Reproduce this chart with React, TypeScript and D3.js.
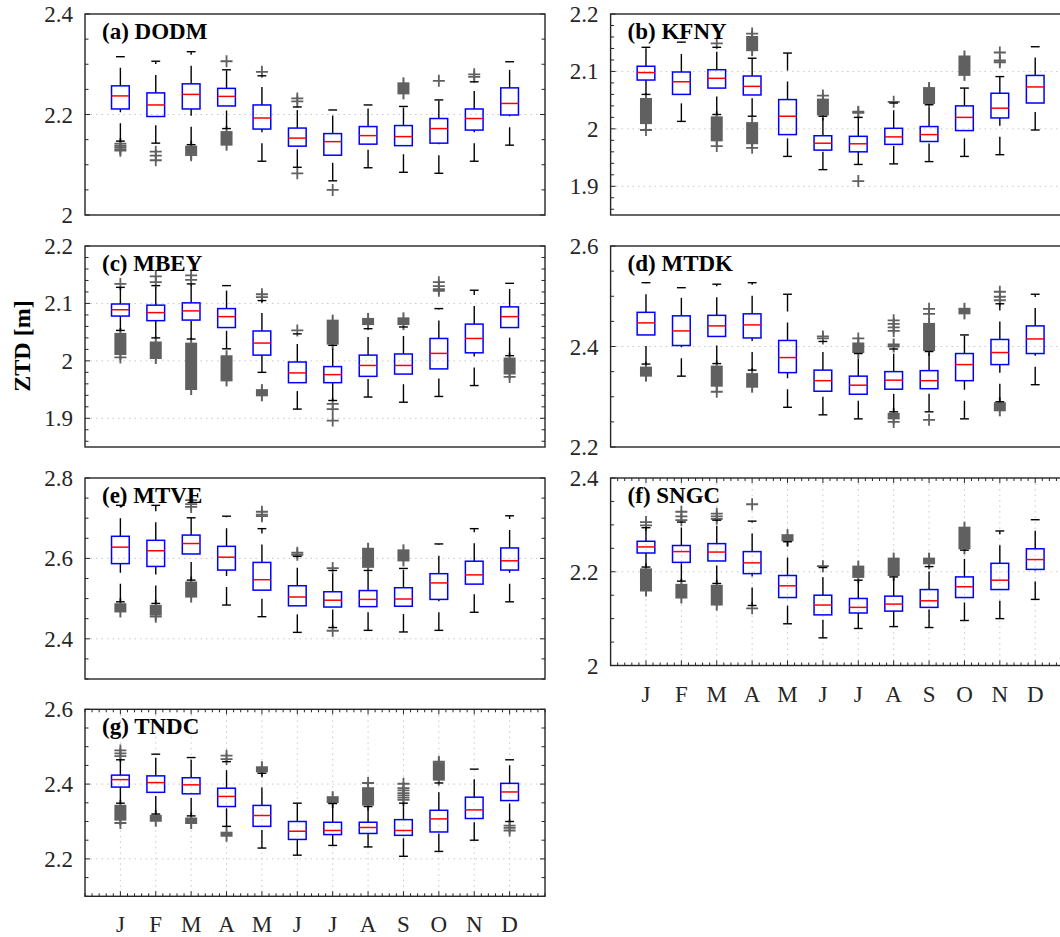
import React from 'react';
import * as d3 from 'd3';

const months = ['J', 'F', 'M', 'A', 'M', 'J', 'J', 'A', 'S', 'O', 'N', 'D'];

// each box: [whiskerLo, q1, median, q3, whiskerHi]
const dodmBoxes = [
  [2.147, 2.211, 2.237, 2.257, 2.315], [2.143, 2.196, 2.219, 2.243, 2.306], [2.14, 2.211, 2.240, 2.261, 2.325],
  [2.172, 2.217, 2.236, 2.252, 2.289], [2.107, 2.171, 2.193, 2.219, 2.277], [2.095, 2.137, 2.153, 2.173, 2.215],
  [2.068, 2.119, 2.146, 2.162, 2.209], [2.094, 2.141, 2.158, 2.176, 2.219], [2.085, 2.138, 2.156, 2.178, 2.216],
  [2.083, 2.143, 2.172, 2.192, 2.229], [2.107, 2.169, 2.192, 2.211, 2.265], [2.139, 2.199, 2.222, 2.253, 2.305],
];
const dodmOutliers = [[2.142, 2.138, 2.135, 2.131, 2.128], [2.126, 2.118, 2.109], [2.119], [2.306], [2.285], [2.232, 2.226, 2.083], [2.05], [], [], [2.267], [2.28, 2.275], []];
const dodmClusters = [[], [], [[2.122, 2.136]], [[2.14, 2.165]], [], [], [], [], [[2.242, 2.262]], [], [], []];

const kfnyBoxes = [
  [2.06, 2.085, 2.098, 2.109, 2.142], [2.013, 2.06, 2.082, 2.099, 2.151], [2.025, 2.071, 2.088, 2.103, 2.142],
  [2.022, 2.059, 2.074, 2.092, 2.123], [1.952, 1.99, 2.022, 2.051, 2.132], [1.929, 1.963, 1.975, 1.988, 2.022],
  [1.938, 1.96, 1.974, 1.987, 2.02], [1.939, 1.973, 1.986, 2.001, 2.045], [1.943, 1.978, 1.99, 2.004, 2.042],
  [1.952, 1.997, 2.02, 2.04, 2.071], [1.955, 2.019, 2.036, 2.062, 2.091], [1.998, 2.045, 2.073, 2.093, 2.143],
];
const kfnyOutliers = [[1.998], [], [2.149, 1.97], [2.166, 1.967], [], [2.058], [2.03, 2.028, 1.909], [2.047], [], [], [2.133, 2.119, 2.116], []];
const kfnyClusters = [[[2.01, 2.052]], [], [[1.98, 2.02]], [[2.137, 2.16], [1.975, 2.01]], [], [[2.025, 2.051]], [], [], [[2.045, 2.071]], [[2.094, 2.126]], [], []];

const mbeyBoxes = [
  [2.053, 2.078, 2.089, 2.099, 2.128], [2.04, 2.07, 2.084, 2.097, 2.131], [2.038, 2.071, 2.087, 2.101, 2.134],
  [2.021, 2.058, 2.077, 2.091, 2.131], [1.98, 2.01, 2.031, 2.052, 2.105], [1.916, 1.962, 1.979, 1.998, 2.047],
  [1.931, 1.962, 1.976, 1.99, 2.027], [1.937, 1.973, 1.992, 2.01, 2.056], [1.928, 1.977, 1.992, 2.012, 2.059],
  [1.938, 1.986, 2.013, 2.039, 2.091], [1.957, 2.014, 2.039, 2.064, 2.123], [2.009, 2.058, 2.077, 2.094, 2.135],
];
const mbeyOutliers = [[2.134, 2.006], [2.147, 2.137], [2.149, 2.141], [], [2.116, 2.111], [2.053], [1.925, 1.916, 1.896], [], [], [2.137, 2.13, 2.125, 2.122], [], [1.972]];
const mbeyClusters = [[[2.012, 2.047]], [[2.005, 2.032]], [[1.951, 2.03]], [[1.966, 2.008]], [[1.94, 1.949]], [], [[2.03, 2.07]], [[2.064, 2.073]], [[2.064, 2.074]], [], [], [[1.978, 2.004]]];

const mtdkBoxes = [
  [2.365, 2.423, 2.447, 2.468, 2.527], [2.341, 2.402, 2.431, 2.461, 2.517], [2.366, 2.42, 2.441, 2.462, 2.524],
  [2.353, 2.417, 2.443, 2.465, 2.527], [2.279, 2.348, 2.378, 2.412, 2.504], [2.264, 2.311, 2.332, 2.353, 2.41],
  [2.256, 2.305, 2.323, 2.341, 2.386], [2.27, 2.315, 2.333, 2.35, 2.395], [2.27, 2.316, 2.332, 2.352, 2.39],
  [2.256, 2.332, 2.364, 2.386, 2.423], [2.29, 2.364, 2.388, 2.414, 2.485], [2.324, 2.386, 2.415, 2.441, 2.504],
];
const mtdkOutliers = [[], [], [2.31], [], [], [2.416, 2.42], [2.416], [2.452, 2.445, 2.438, 2.431, 2.25], [2.254, 2.475, 2.465], [], [2.509, 2.499, 2.492], []];
const mtdkClusters = [[[2.342, 2.358]], [], [[2.322, 2.36]], [[2.32, 2.345]], [], [], [[2.389, 2.406]], [[2.4, 2.404], [2.257, 2.266]], [[2.393, 2.445]], [[2.466, 2.475]], [[2.273, 2.287]], []];

const mtveBoxes = [
  [2.492, 2.587, 2.628, 2.655, 2.732], [2.488, 2.58, 2.619, 2.645, 2.732], [2.546, 2.611, 2.637, 2.658, 2.701],
  [2.484, 2.571, 2.603, 2.63, 2.705], [2.455, 2.521, 2.547, 2.59, 2.674], [2.416, 2.482, 2.504, 2.532, 2.605],
  [2.428, 2.479, 2.496, 2.517, 2.57], [2.421, 2.48, 2.498, 2.52, 2.57], [2.417, 2.481, 2.499, 2.527, 2.575],
  [2.421, 2.498, 2.539, 2.562, 2.636], [2.466, 2.536, 2.559, 2.593, 2.674], [2.492, 2.571, 2.594, 2.626, 2.706],
];
const mtveOutliers = [[], [2.455], [2.745, 2.735, 2.728], [], [2.716, 2.709, 2.705], [2.614, 2.609], [2.576, 2.42], [], [], [], [], []];
const mtveClusters = [[[2.468, 2.486]], [[2.46, 2.482]], [[2.505, 2.54]], [], [], [], [], [[2.579, 2.624]], [[2.595, 2.62]], [], [], []];

const sngcBoxes = [
  [2.21, 2.24, 2.253, 2.265, 2.294], [2.18, 2.22, 2.243, 2.256, 2.306], [2.175, 2.223, 2.242, 2.26, 2.31],
  [2.128, 2.196, 2.219, 2.243, 2.308], [2.089, 2.145, 2.17, 2.192, 2.264], [2.059, 2.108, 2.129, 2.15, 2.209],
  [2.079, 2.112, 2.124, 2.143, 2.182], [2.083, 2.116, 2.131, 2.148, 2.189], [2.081, 2.124, 2.138, 2.162, 2.211],
  [2.096, 2.145, 2.168, 2.189, 2.246], [2.1, 2.162, 2.182, 2.218, 2.287], [2.141, 2.205, 2.226, 2.249, 2.311],
];
const sngcOutliers = [[2.306, 2.299], [2.328, 2.318, 2.31], [2.324, 2.318, 2.313], [2.344, 2.122], [], [2.212], [], [], [], [], [], []];
const sngcClusters = [[[2.16, 2.205]], [[2.145, 2.172]], [[2.13, 2.17]], [], [[2.267, 2.278]], [], [[2.189, 2.211]], [[2.193, 2.228]], [[2.218, 2.228]], [[2.25, 2.294]], [], []];

const tndcBoxes = [
  [2.349, 2.392, 2.412, 2.424, 2.465], [2.32, 2.378, 2.404, 2.422, 2.48], [2.315, 2.374, 2.398, 2.417, 2.471],
  [2.287, 2.34, 2.367, 2.389, 2.46], [2.229, 2.287, 2.316, 2.343, 2.429], [2.21, 2.252, 2.274, 2.3, 2.349],
  [2.236, 2.265, 2.276, 2.298, 2.348], [2.232, 2.268, 2.284, 2.298, 2.34], [2.207, 2.263, 2.276, 2.305, 2.349],
  [2.22, 2.272, 2.307, 2.33, 2.403], [2.25, 2.308, 2.331, 2.365, 2.44], [2.3, 2.356, 2.379, 2.402, 2.465],
];
const tndcOutliers = [[2.49, 2.482, 2.475, 2.296], [], [], [2.476, 2.467], [], [], [], [2.403], [2.401, 2.389, 2.383, 2.376, 2.37, 2.364, 2.358], [2.46], [], [2.289, 2.283, 2.276]];
const tndcClusters = [[[2.305, 2.342]], [[2.302, 2.315]], [[2.296, 2.308]], [[2.262, 2.27]], [[2.434, 2.445]], [], [[2.352, 2.365]], [[2.345, 2.389]], [], [[2.412, 2.456]], [], []];

const titles = ['(a) DODM', '(b) KFNY', '(c) MBEY', '(d) MTDK', '(e) MTVE', '(f) SNGC', '(g) TNDC'];
const yDomains = [[2, 2.4], [1.85, 2.2], [1.85, 2.2], [2.2, 2.6], [2.3, 2.8], [2, 2.4], [2.1, 2.6]];
const yMajor = [[2, 2.2, 2.4], [1.9, 2, 2.1, 2.2], [1.9, 2, 2.1, 2.2], [2.2, 2.4, 2.6], [2.4, 2.6, 2.8], [2, 2.2, 2.4], [2.2, 2.4, 2.6]];
const yMinorStep = [0.05, 0.02, 0.02, 0.05, 0.05, 0.05, 0.05];

const panelData = [
  { boxes: dodmBoxes, outliers: dodmOutliers, clusters: dodmClusters },
  { boxes: kfnyBoxes, outliers: kfnyOutliers, clusters: kfnyClusters },
  { boxes: mbeyBoxes, outliers: mbeyOutliers, clusters: mbeyClusters },
  { boxes: mtdkBoxes, outliers: mtdkOutliers, clusters: mtdkClusters },
  { boxes: mtveBoxes, outliers: mtveOutliers, clusters: mtveClusters },
  { boxes: sngcBoxes, outliers: sngcOutliers, clusters: sngcClusters },
  { boxes: tndcBoxes, outliers: tndcOutliers, clusters: tndcClusters },
];

// layout
const colX = [85, 610.6];
const panelW = 460;
const layout = [
  { col: 0, top: 14, h: 201, xt: false },
  { col: 1, top: 14, h: 201, xt: false },
  { col: 0, top: 246, h: 201, xt: false },
  { col: 1, top: 246, h: 201, xt: false },
  { col: 0, top: 478, h: 201, xt: false },
  { col: 1, top: 478, h: 187.5, xt: true },
  { col: 0, top: 709.3, h: 187, xt: true },
];

const FONT = 'Liberation Serif, Times New Roman, Tinos, serif';
const AX = '#262626';
const OUT = '#606060';

function fmt(v: number) {
  return String(+v.toFixed(2));
}

function Panel({ idx }: { idx: number }) {
  const L = layout[idx];
  const left = colX[L.col];
  const x = d3.scaleLinear().domain([0, 13]).range([left, left + panelW]);
  const y = d3.scaleLinear().domain(yDomains[idx]).range([L.top + L.h, L.top]);
  const [d0, d1] = yDomains[idx];
  const step = yMinorStep[idx];
  const minor = d3.range(Math.round(d0 / step), Math.round(d1 / step) + 1).map((k) => k * step);
  const majors = yMajor[idx];
  const { boxes, outliers, clusters } = panelData[idx];
  const bw = x(0.5) - x(0);
  const capW = bw / 2;
  const ms = 6;
  const bottom = L.top + L.h;
  const right = left + panelW;
  const xMinor = d3.range(0, 66).map((k) => k * 0.2);

  return (
    <g>
      {majors.filter((v) => v > d0 + 1e-9 && v < d1 - 1e-9).map((v, i) => (
        <line key={'gy' + i} x1={left} x2={right} y1={y(v)} y2={y(v)} stroke="#c8c8c8" strokeWidth={1} strokeDasharray="1.5 4" />
      ))}
      {L.xt && months.map((m, i) => (
        <line key={'gx' + i} x1={x(i + 1)} x2={x(i + 1)} y1={L.top} y2={bottom} stroke="#c8c8c8" strokeWidth={1} strokeDasharray="1.5 4" />
      ))}
      {minor.map((v, i) => {
        const isMaj = majors.some((m) => Math.abs(m - v) < 1e-6);
        const len = isMaj ? 5 : 3.5;
        return (
          <g key={'yt' + i}>
            <line x1={left} x2={left + len} y1={y(v)} y2={y(v)} stroke={AX} strokeWidth={1} />
            <line x1={right} x2={right - len} y1={y(v)} y2={y(v)} stroke={AX} strokeWidth={1} />
          </g>
        );
      })}
      {L.xt && xMinor.map((v, i) => {
        const isMaj = Math.abs(v - Math.round(v)) < 1e-6 && v > 0.5 && v < 12.5;
        const len = isMaj ? 5 : 3;
        return (
          <g key={'xt' + i}>
            <line x1={x(v)} x2={x(v)} y1={bottom} y2={bottom - len} stroke={AX} strokeWidth={1} />
            <line x1={x(v)} x2={x(v)} y1={L.top} y2={L.top + len} stroke={AX} strokeWidth={1} />
          </g>
        );
      })}
      {majors.map((v, i) => (
        <text key={'yl' + i} x={left - 12} y={y(v)} dy="0.35em" textAnchor="end" fontFamily={FONT} fontSize={23} fill={AX}>
          {fmt(v)}
        </text>
      ))}
      {L.xt && months.map((m, i) => (
        <text key={'xl' + i} x={x(i + 1)} y={bottom + 36} textAnchor="middle" fontFamily={FONT} fontSize={23} fill={AX}>
          {m}
        </text>
      ))}
      {boxes.map((b, i) => {
        const cx = x(i + 1);
        const [lo, q1, med, q3, hi] = b;
        return (
          <g key={'b' + i}>
            {clusters[i].map((c, j) => (
              <g key={'c' + j}>
                <rect x={cx - ms} width={2 * ms} y={y(c[1]) - 1} height={Math.max(2, y(c[0]) - y(c[1]) + 2)} fill={OUT} />
                <line x1={cx} x2={cx} y1={y(c[1]) - ms} y2={y(c[0]) + ms} stroke={OUT} strokeWidth={2} />
              </g>
            ))}
            {outliers[i].map((o, j) => (
              <path key={'o' + j} d={`M${cx - ms},${y(o)}H${cx + ms}M${cx},${y(o) - ms}V${y(o) + ms}`} stroke={OUT} strokeWidth={1.8} fill="none" />
            ))}
            <line x1={cx} x2={cx} y1={y(q3)} y2={y(hi)} stroke="#000" strokeWidth={1.4} strokeDasharray="18 11" />
            <line x1={cx} x2={cx} y1={y(lo)} y2={y(q1)} stroke="#000" strokeWidth={1.4} strokeDasharray="18 11" />
            <line x1={cx - capW / 2} x2={cx + capW / 2} y1={y(hi)} y2={y(hi)} stroke="#000" strokeWidth={1.4} />
            <line x1={cx - capW / 2} x2={cx + capW / 2} y1={y(lo)} y2={y(lo)} stroke="#000" strokeWidth={1.4} />
            <rect x={cx - bw / 2} width={bw} y={y(q3)} height={y(q1) - y(q3)} fill="none" stroke="#0000ff" strokeWidth={1.5} />
            <line x1={cx - bw / 2} x2={cx + bw / 2} y1={y(med)} y2={y(med)} stroke="#ff0000" strokeWidth={1.5} />
          </g>
        );
      })}
      <rect x={left} y={L.top} width={panelW} height={L.h} fill="none" stroke={AX} strokeWidth={1.4} />
      <text x={left + 17} y={L.top + 25} fontFamily={FONT} fontWeight="bold" fontSize={23} fill="#000">
        {titles[idx]}
      </text>
    </g>
  );
}

export default function App() {
  return (
    <svg width={1060} height={937} style={{ position: 'absolute', left: 0, top: 0, background: '#fff' }}>
      <rect x={0} y={0} width={1060} height={937} fill="#fff" />
      {layout.map((_, i) => (
        <Panel key={i} idx={i} />
      ))}
      <text transform="translate(30,346) rotate(-90)" textAnchor="middle" fontFamily={FONT} fontWeight="bold" fontSize={24} fill="#000">
        ZTD [m]
      </text>
    </svg>
  );
}
